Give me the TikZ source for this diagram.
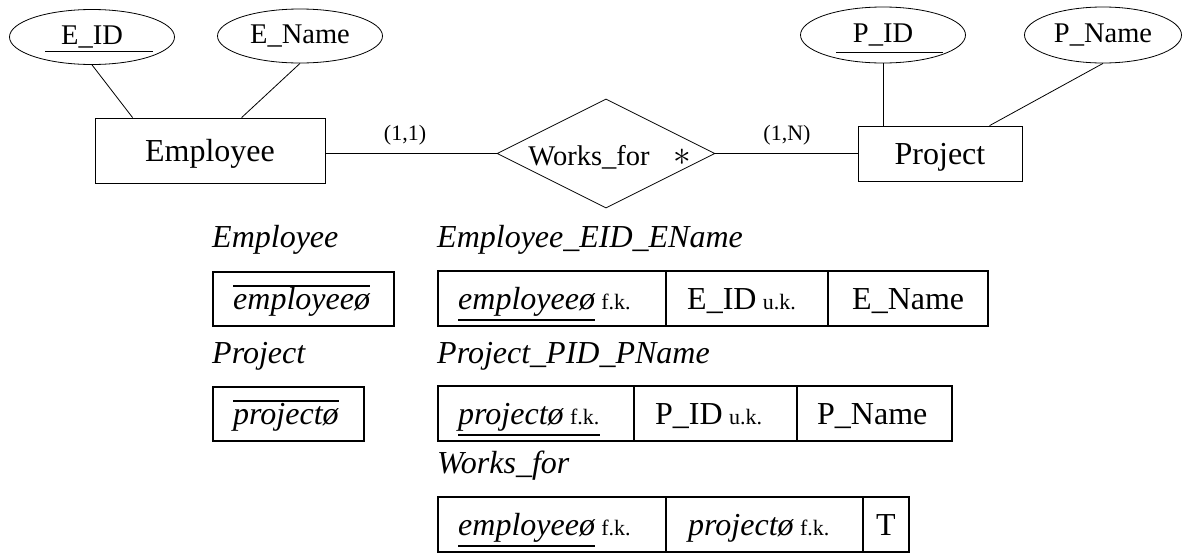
\documentclass[tikz,border=0pt]{standalone}
\usepackage{fontspec}
\setmainfont{Liberation Serif}
\usetikzlibrary{shapes.geometric,calc}
\newcommand\ERell{\fontsize{28.5}{31}\selectfont}
\newcommand\ERent{\fontsize{32}{36}\selectfont}
\newcommand\ERcard{\fontsize{22}{25}\selectfont}
\newcommand\ERtab{\fontsize{32}{36}\selectfont}
\newcommand\ERkey{\fontsize{22}{24}\selectfont}
\tikzset{
  attr/.style={draw, ellipse, line width=0.8pt, inner sep=0pt, font=\ERell},
  ent/.style={draw, rectangle, line width=0.8pt, inner sep=0pt, font=\ERent, text depth=0pt},
  rel/.style={draw, diamond, line width=0.8pt, inner sep=0pt, aspect=2},
  conn/.style={line width=0.8pt},
  card/.style={inner sep=0pt, font=\ERcard},
  lbl/.style={inner sep=0pt, anchor=base west, font=\ERtab\itshape},
  cell/.style={draw, rectangle, line width=2.5pt, inner sep=0pt},
  ctxt/.style={inner sep=0pt, anchor=base west, font=\ERtab},
  ktxt/.style={inner sep=0pt, anchor=base west, font=\ERkey},
  rule/.style={line width=2.2pt},
  thinrule/.style={line width=1pt}
}
\begin{document}
\begin{tikzpicture}[x=1pt,y=-1pt]
\useasboundingbox (0,0) rectangle (1184,555);

% ---------- ER diagram ----------
\node[attr, minimum width=165, minimum height=55] (eid) at (92,37) {E\_ID};
\node[attr, minimum width=165, minimum height=54] (ename) at (300,36) {E\_Name};
\node[attr, minimum width=165, minimum height=56] (pid) at (883,35) {P\_ID};
\node[attr, minimum width=157, minimum height=56] (pname) at (1103,35) {P\_Name};

\draw[thinrule] ($(eid.center)+(-47,14)$) coordinate (eidu1) -- ($(eid.center)+(61,14)$) coordinate (eidu2);
\draw[thinrule] ($(pid.center)+(-47,17)$) coordinate (pidu1) -- ($(pid.center)+(60,17)$) coordinate (pidu2);

\node[ent, minimum width=230, minimum height=65] (emp) at (210,150.5) {Employee};
\node[ent, minimum width=164, minimum height=55] (proj) at (940,153.5) {Project};
\node[rel, minimum width=218, minimum height=109] (wf) at (606,153.5) {};
\node[inner sep=0pt, anchor=base, font=\ERell] (wft) at (589,165) {Works\_for};
\node[inner sep=0pt, font=\ERcard, scale=1.7] (ast) at (682,157) {$\ast$};

\coordinate (empa) at ($(emp.north west)+(38,0)$);
\coordinate (empb) at ($(emp.north west)+(147,0)$);
\coordinate (proja) at ($(proj.north west)+(132,0)$);
\draw[conn] (eid.south) -- (empa);
\draw[conn] (ename.south) -- (empb);
\draw[conn] (pid.south) -- (pid.south |- proj.north);
\draw[conn] (pname.south) -- (proja);
\draw[conn] (emp.east |- wf.west) -- (wf.west);
\draw[conn] (wf.east) -- (proj.west);

\node[card] (c11) at (405,135) {(1,1)};
\node[card] (c1n) at (787,135) {(1,N)};

% ---------- relational schema ----------
\node[lbl] (l1) at (212,247) {Employee};
\node[lbl] (l2) at (437,247) {Employee\_EID\_EName};
\node[lbl] (l3) at (212,363) {Project};
\node[lbl] (l4) at (437,363) {Project\_PID\_PName};
\node[lbl] (l5) at (437,473) {Works\_for};

% row 1
\node[cell, minimum width=181, minimum height=54] (b1) at (303.5,299) {};
\node[cell, minimum width=228, minimum height=55] (r1a) at (552,298.5) {};
\node[cell, minimum width=162, minimum height=55] (r1b) at (747,298.5) {};
\node[cell, minimum width=160, minimum height=55] (r1c) at (908,298.5) {};

\node[ctxt] (b1t) at (233,309) {\itshape employee\char"00F8};
\draw[rule] ($(b1t.base west)+(0,-23)$) -- ($(b1t.base east)+(0,-23)$);

\node[ctxt] (r1at) at (458,309) {\itshape employee\char"00F8};
\node[ktxt] (r1ak) at ($(r1at.base east)+(6,0)$) {f.k.};
\draw[rule] ($(r1at.base west)+(0,11)$) -- ($(r1at.base east)+(0,11)$);
\node[ctxt] (r1bt) at (687,309) {E\_ID};
\node[ktxt] (r1bk) at ($(r1bt.base east)+(6,0)$) {u.k.};
\node[ctxt] (r1ct) at (852,309) {E\_Name};

% row 2
\node[cell, minimum width=151, minimum height=54] (b2) at (288.5,414) {};
\node[cell, minimum width=196, minimum height=55] (r2a) at (536,413.5) {};
\node[cell, minimum width=163, minimum height=55] (r2b) at (715.5,413.5) {};
\node[cell, minimum width=155, minimum height=55] (r2c) at (874.5,413.5) {};

\node[ctxt] (b2t) at (233,424) {\itshape project\char"00F8};
\draw[rule] ($(b2t.base west)+(0,-23)$) -- ($(b2t.base east)+(0,-23)$);

\node[ctxt] (r2at) at (458,424) {\itshape project\char"00F8};
\node[ktxt] (r2ak) at ($(r2at.base east)+(6,0)$) {f.k.};
\draw[rule] ($(r2at.base west)+(0,11)$) -- ($(r2ak.base east)+(0,11)$);
\node[ctxt] (r2bt) at (655,424) {P\_ID};
\node[ktxt] (r2bk) at ($(r2bt.base east)+(6,0)$) {u.k.};
\node[ctxt] (r2ct) at (817,424) {P\_Name};

% row 3
\node[cell, minimum width=228, minimum height=55] (r3a) at (552,524.5) {};
\node[cell, minimum width=197, minimum height=55] (r3b) at (764.5,524.5) {};
\node[cell, minimum width=46, minimum height=55] (r3c) at (886,524.5) {};

\node[ctxt] (r3at) at (458,535) {\itshape employee\char"00F8};
\node[ktxt] (r3ak) at ($(r3at.base east)+(6,0)$) {f.k.};
\draw[rule] ($(r3at.base west)+(0,11)$) -- ($(r3at.base east)+(0,11)$);
\node[ctxt] (r3bt) at (688,535) {\itshape project\char"00F8};
\node[ktxt] (r3bk) at ($(r3bt.base east)+(6,0)$) {f.k.};
\node[ctxt, anchor=base] (r3ct) at (r3c.center |- r3bt.base) {T};
\end{tikzpicture}
\end{document}
